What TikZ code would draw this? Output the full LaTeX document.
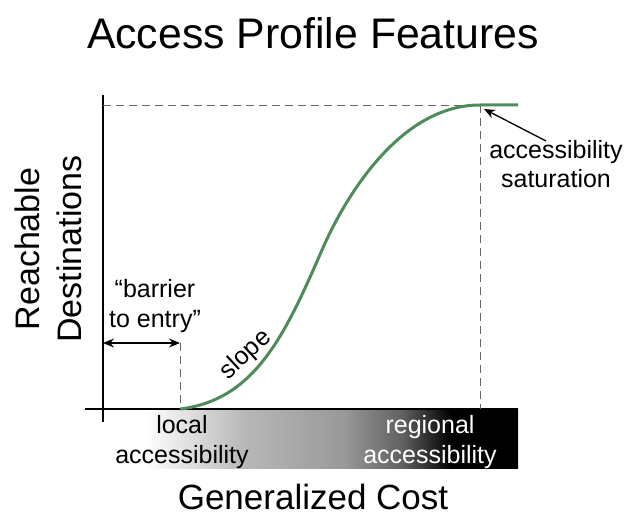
\documentclass[tikz,border=0pt]{standalone}
\usepackage{fontspec}
\setmainfont{Liberation Sans}
\usetikzlibrary{arrows.meta}
\definecolor{curvegreen}{RGB}{77,139,90}
\pgfdeclarehorizontalshading{accbar}{100bp}{color(0bp)=(white); color(30bp)=(white); color(42bp)=(black!28); color(54bp)=(black!40); color(61bp)=(black!62); color(67bp)=(black); color(100bp)=(black)}
\tikzset{
  axisline/.style={line width=2.5pt},
  guide/.style={draw=black!60, line width=0.9pt, dash pattern=on 8pt off 5pt},
  pointer/.style={line width=1.3pt, -{Stealth[length=11pt,width=9pt]}},
  smalltext/.style={font=\fontsize{25}{29.5}\selectfont, align=center, inner sep=0pt}
}
\begin{document}
\begin{tikzpicture}[x=1pt, y=-1pt]
  \useasboundingbox (0,0) rectangle (626,516);
  % \draw (0,0) rectangle (626,516);
  \shade[shading=accbar] (103,409) rectangle (518,468);
  \draw[axisline] (103,95) -- (103,422);
  \draw[axisline] (85,409) -- (518,409);
  \coordinate (entry) at (180,409);
  \coordinate (top) at (480,105);
  \coordinate (inflect) at (322,250);
  \draw[guide] (103,105) -- (top) -- (480,409);
  \draw[guide] (180,343) -- (entry);
  \draw[curvegreen, line width=3pt]
    (entry) .. controls (255,400) and (285,335) .. (inflect)
    .. controls (345,197) and (400,105) .. (top) -- (518,105);
  \coordinate (barL) at (103,343);
  \coordinate (barR) at (180,343);
  \draw[pointer, {Stealth[length=11pt,width=9pt]}-{Stealth[length=11pt,width=9pt]}] (barL) -- (barR);
  \coordinate (tail) at (546,141);
  \coordinate (tip) at (484,109);
  \draw[pointer] (tail) -- (tip);
  \path (313,33) node (title) {\fontsize{42.8}{50}\selectfont Access Profile Features};
  \path (48,249) node[rotate=90, align=center, inner sep=0pt,
    font=\fontsize{34}{42}\selectfont] (ylabel) {Reachable\\Destinations};
  \path (313,497) node (xlabel) {\fontsize{35}{42}\selectfont Generalized Cost};
  \path (155,306) node[smalltext] (barrier) {``barrier\\to entry''};
  \path (246,355) node[smalltext, rotate=43] (slope) {slope};
  \path (556,164) node[smalltext] (saturation) {accessibility\\saturation};
  \path (182,442) node[smalltext] (localacc) {local\\accessibility};
  \path (430,442) node[smalltext, text=white] (regionalacc) {regional\\accessibility};
\end{tikzpicture}
\end{document}
